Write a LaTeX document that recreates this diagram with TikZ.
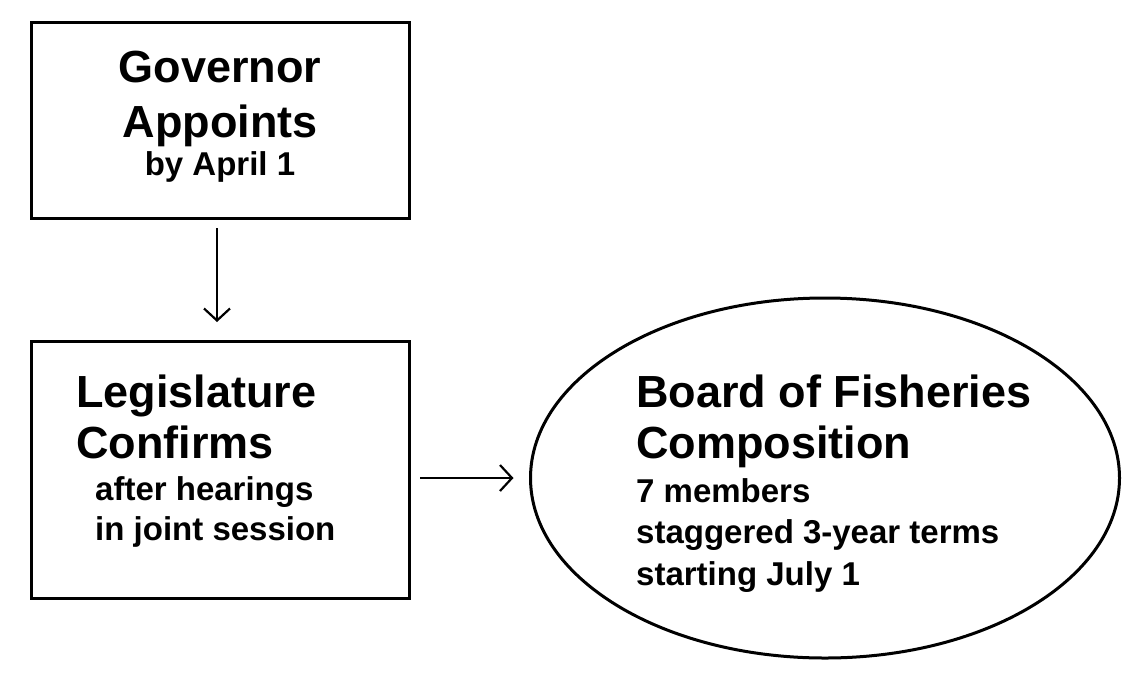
\documentclass[tikz,border=0pt]{standalone}
\usepackage{fontspec}
\setmainfont{Liberation Sans}
\usetikzlibrary{shapes.geometric,arrows.meta}
\begin{document}
\begin{tikzpicture}[x=1pt,y=-1pt,
  stepbox/.style={draw, line width=3pt, inner sep=0pt, outer sep=0pt},
  bigtxt/.style={inner sep=0pt, font=\fontsize{45}{54}\selectfont\bfseries},
  smalltxt/.style={inner sep=0pt, font=\fontsize{33}{40}\selectfont\bfseries},
  arr/.style={line width=2.2pt, -{Straight Barb[length=12pt,width=26pt,line width=2.2pt]}}]
\useasboundingbox[fill=white] (0,0) rectangle (1126,686);
% shapes
\node[stepbox, minimum width=378pt, minimum height=196pt] (gov) at (220,120) {};
\node[stepbox, minimum width=378pt, minimum height=257pt] (leg) at (220,469.5) {};
\node[stepbox, ellipse, minimum width=589pt, minimum height=360pt] (board) at (825,478) {};
% texts
\node[bigtxt, anchor=base] (t1) at (220,82) {Governor};
\node[bigtxt, anchor=base] (t2) at (220,137) {Appoints};
\node[smalltxt, anchor=base] (t3) at (220,175) {by April 1};
\node[bigtxt, anchor=base west] (l1) at (76,407) {Legislature};
\node[bigtxt, anchor=base west] (l2) at (76,458) {Confirms};
\node[smalltxt, anchor=base west] (l3) at (95,500) {after hearings};
\node[smalltxt, anchor=base west] (l4) at (95,540) {in joint session};
\node[bigtxt, anchor=base west] (b1) at (636,407) {Board of Fisheries};
\node[bigtxt, anchor=base west] (b2) at (636,458) {Composition};
\node[smalltxt, anchor=base west] (b3) at (636,502) {7 members};
\node[smalltxt, anchor=base west] (b4) at (636,543) {staggered 3-year terms};
\node[smalltxt, anchor=base west] (b5) at (636,585) {starting July 1};
% connectors
\draw[arr, shorten <=10pt, shorten >=19pt] ([xshift=-3pt]gov.south) -- ([xshift=-3pt]leg.north);
\draw[arr, shorten <=11pt, shorten >=17pt] (leg.east |- board.west) -- (board.west);
\end{tikzpicture}
\end{document}
